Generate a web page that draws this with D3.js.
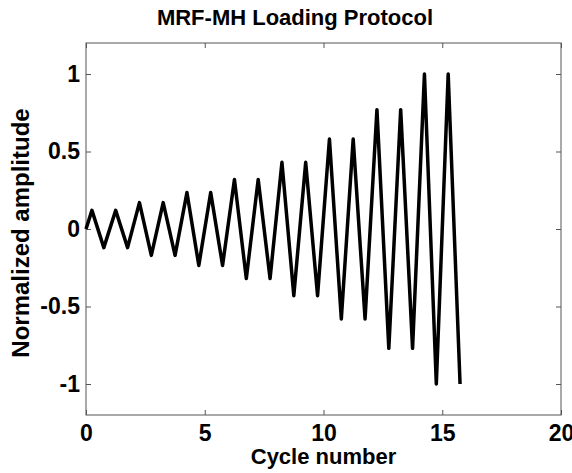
<!DOCTYPE html>
<html>
<head>
<meta charset="utf-8">
<script src="https://cdn.jsdelivr.net/npm/d3@7"></script>
<style>
	body { margin: 0; background: #fff; }
	text { font-family: Arial, "Liberation Sans", sans-serif; font-weight: bold; fill: #000; }
</style>
</head>
<body>
<div id="graphic"></div>
<script>
// cycle data: each cycle is 0 -> +amp -> -amp, two cycles per amplitude step
const cycleStarts = [0, 1, 2, 3, 4, 5, 6, 7, 8, 9, 10, 11, 12, 13, 14, 15];
const cycleAmps = [0.12, 0.12, 0.17, 0.17, 0.235, 0.235, 0.32, 0.32, 0.43, 0.43, 0.58, 0.58, 0.77, 0.77, 1.0, 1.0];
const xTicks = [0, 5, 10, 15, 20];
const yTicks = [-1, -0.5, 0, 0.5, 1];

const width = 572, height = 473;
const margin = { top: 43, right: 11, bottom: 58, left: 86 };
const chart_width = width - margin.left - margin.right;
const chart_height = height - margin.top - margin.bottom;

// build the triangle wave points from the cycle table
let points = [{ x: 0, y: 0 }];
cycleStarts.forEach((c, i) => {
	points.push({ x: c + 0.25, y: cycleAmps[i] });
	points.push({ x: c + 0.75, y: -cycleAmps[i] });
});

let svg = d3.select('#graphic').append('svg')
	.attr('width', width)
	.attr('height', height);

let g = svg.append('g')
	.attr('transform', 'translate(' + margin.left + ',' + margin.top + ')');

let x = d3.scaleLinear().domain([0, 20]).range([0, chart_width]);
let y = d3.scaleLinear().domain([-1.2, 1.2]).range([chart_height, 0]);

const axisColour = '#555';

// box
g.append('rect')
	.attr('width', chart_width)
	.attr('height', chart_height)
	.attr('fill', 'none')
	.attr('stroke', axisColour)
	.attr('stroke-width', 1);

// axes with inward ticks
function styleAxis(sel) {
	sel.select('.domain').remove();
	sel.selectAll('line').attr('stroke', axisColour);
}

g.append('g')
	.attr('transform', 'translate(0,' + chart_height + ')')
	.call(d3.axisBottom(x).tickValues(xTicks).tickSize(-5).tickPadding(10).tickFormat(d => String(d)))
	.call(styleAxis)
	.selectAll('text').style('font-size', '23px');

g.append('g')
	.call(d3.axisTop(x).tickValues(xTicks).tickSize(-5).tickFormat(''))
	.call(styleAxis);

g.append('g')
	.call(d3.axisLeft(y).tickValues(yTicks).tickSize(-5).tickPadding(6).tickFormat(d => String(d)))
	.call(styleAxis)
	.selectAll('text').style('font-size', '23px');

g.append('g')
	.attr('transform', 'translate(' + chart_width + ',0)')
	.call(d3.axisRight(y).tickValues(yTicks).tickSize(-5).tickFormat(''))
	.call(styleAxis);

// the wave
let line = d3.line().x(d => x(d.x)).y(d => y(d.y));

g.append('path')
	.datum(points)
	.attr('d', line)
	.attr('fill', 'none')
	.attr('stroke', '#000')
	.attr('stroke-width', 3.5)
	.attr('stroke-linejoin', 'round');

// title and labels
svg.append('text')
	.attr('x', 295)
	.attr('y', 25)
	.attr('text-anchor', 'middle')
	.style('font-size', '22px')
	.text('MRF-MH Loading Protocol');

svg.append('text')
	.attr('x', margin.left + chart_width / 2)
	.attr('y', 464)
	.attr('text-anchor', 'middle')
	.style('font-size', '22px')
	.text('Cycle number');

svg.append('text')
	.attr('transform', 'translate(29,' + 233 + ') rotate(-90)')
	.attr('text-anchor', 'middle')
	.style('font-size', '24px')
	.text('Normalized amplitude');
</script>
</body>
</html>
